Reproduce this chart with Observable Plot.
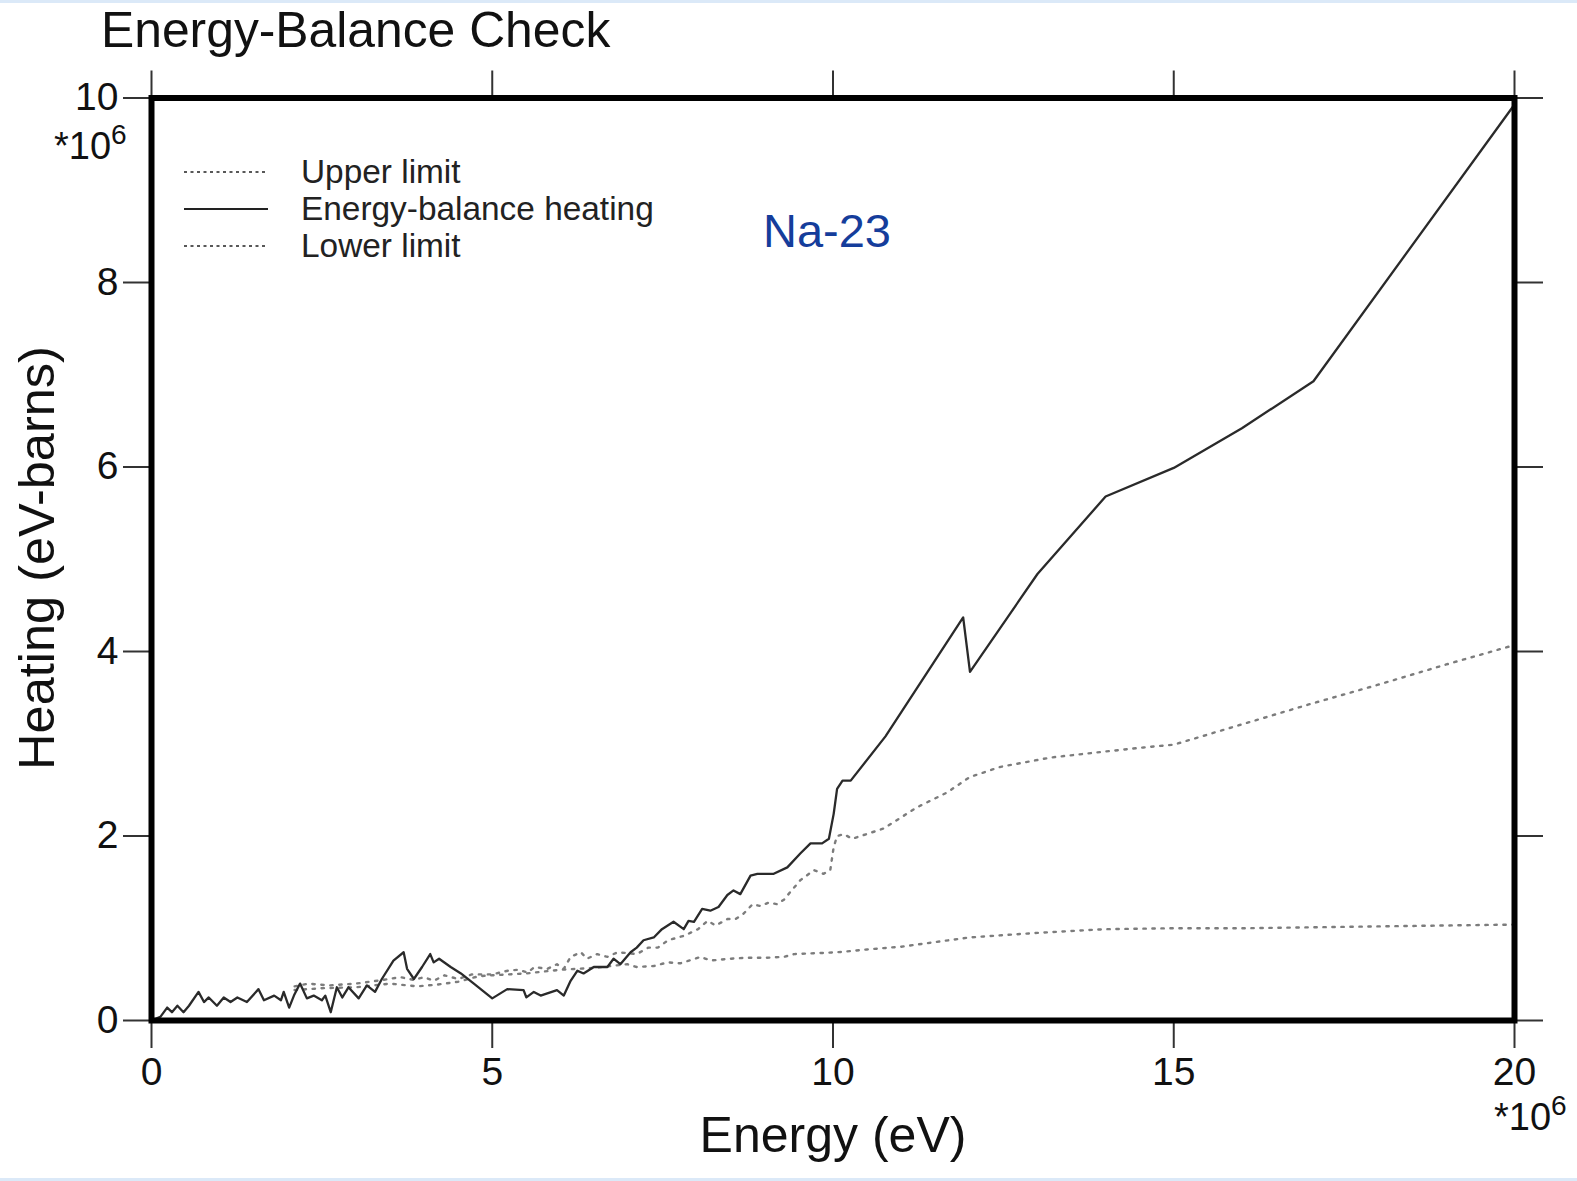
<!DOCTYPE html>
<html>
<head>
<meta charset="utf-8">
<script src="https://cdn.jsdelivr.net/npm/d3@7"></script>
<script src="https://cdn.jsdelivr.net/npm/@observablehq/plot@0.6"></script>
<style>
  html, body { margin: 0; padding: 0; background: #fff; }
  #wrap { position: relative; width: 1577px; height: 1181px; overflow: hidden;
          font-family: "Liberation Sans", Arial, sans-serif; color: #111; }
  #wrap svg { position: absolute; left: 0; top: 0; }
  .t { position: absolute; white-space: nowrap; line-height: 1; transform: translateY(-50%); }
  .edge { position: absolute; left: 0; width: 1577px; height: 3px; background: #dbe9f8; }
  sup { font-size: 0.74em; vertical-align: 0; position: relative; top: -0.55em; }
</style>
</head>
<body>
<div id="wrap"></div>
<script>
// Energy grid in units of 10^6 eV, heating in units of 10^6 eV-barns.
const heatingEnergy = [
  0, 0.13, 0.23, 0.3, 0.38, 0.47, 0.55, 0.69, 0.77, 0.84, 0.96, 1.06, 1.16, 1.26, 1.4,
  1.57, 1.65, 1.8, 1.9, 1.94, 2.02, 2.09, 2.18, 2.28, 2.38, 2.5, 2.55, 2.63, 2.72, 2.8,
  2.89, 3.04, 3.16, 3.28, 3.38, 3.55, 3.7, 3.75, 3.85, 3.97, 4.09, 4.14, 4.22, 4.39, 4.54,
  4.73, 5.0, 5.22, 5.46, 5.5, 5.61, 5.71, 5.95, 6.05, 6.15, 6.25, 6.34, 6.49, 6.69, 6.78,
  6.88, 7.03, 7.12, 7.22, 7.37, 7.49, 7.66, 7.81, 7.88, 7.96, 8.08, 8.2, 8.32, 8.45, 8.54,
  8.64, 8.79, 8.89, 9.13, 9.33, 9.52, 9.67, 9.84, 9.94, 10.01, 10.06, 10.14, 10.26, 10.77,
  11.91, 12.01, 13.0, 14.0, 15.0, 16.0, 17.05, 20.0
];
const heatingValue = [
  0, 0.04, 0.14, 0.09, 0.16, 0.09, 0.16, 0.31, 0.2, 0.25, 0.16, 0.25, 0.2, 0.25, 0.2,
  0.34, 0.22, 0.27, 0.22, 0.31, 0.14, 0.27, 0.4, 0.24, 0.27, 0.22, 0.27, 0.09, 0.36, 0.25,
  0.36, 0.24, 0.38, 0.31, 0.45, 0.65, 0.74, 0.56, 0.45, 0.58, 0.72, 0.63, 0.67, 0.58, 0.51,
  0.4, 0.24, 0.34, 0.33, 0.25, 0.31, 0.27, 0.33, 0.27, 0.43, 0.54, 0.51, 0.58, 0.58, 0.67,
  0.61, 0.74, 0.79, 0.87, 0.9, 0.99, 1.07, 0.99, 1.08, 1.07, 1.21, 1.19, 1.23, 1.36, 1.41,
  1.37, 1.57, 1.59, 1.59, 1.66, 1.81, 1.92, 1.92, 1.97, 2.24, 2.51, 2.6, 2.6, 3.08,
  4.37, 3.78, 4.84, 5.68, 5.99, 6.42, 6.93, 9.93
];

const upperEnergy = [
  2.1, 2.3, 2.6, 3.0, 3.4, 3.65, 3.85, 4.0, 4.14, 4.3, 4.5, 4.7, 5.0, 5.23, 5.38, 5.52,
  5.62, 5.81, 5.95, 6.05, 6.15, 6.3, 6.39, 6.54, 6.69, 6.84, 7.12, 7.29, 7.43, 7.58, 7.82,
  8.02, 8.16, 8.28, 8.45, 8.57, 8.69, 8.82, 8.94, 9.06, 9.18, 9.28, 9.37, 9.52, 9.72, 9.86,
  9.96, 10.01, 10.06, 10.16, 10.28, 10.74, 11.23, 11.67, 12.01, 12.46, 13.19, 13.92, 14.56,
  15.0, 16.0, 17.0, 18.0, 19.0, 20.0
];
const upperValue = [
  0.37, 0.4, 0.38, 0.4, 0.44, 0.47, 0.44, 0.47, 0.43, 0.49, 0.45, 0.5, 0.5, 0.54, 0.55, 0.52,
  0.58, 0.56, 0.61, 0.56, 0.69, 0.74, 0.67, 0.72, 0.69, 0.74, 0.72, 0.79, 0.79, 0.87, 0.92,
  0.99, 1.08, 1.03, 1.1, 1.1, 1.16, 1.26, 1.24, 1.28, 1.26, 1.31, 1.39, 1.52, 1.63, 1.59,
  1.63, 1.88, 2.0, 2.02, 1.97, 2.08, 2.31, 2.47, 2.64, 2.75, 2.85, 2.91, 2.96,
  2.99, 3.21, 3.43, 3.64, 3.86, 4.07
];

const lowerEnergy = [
  2.1, 2.5, 3.0, 3.5, 3.9, 4.2, 4.5, 4.8, 5.0, 5.5, 6.0, 6.5, 6.98, 7.12, 7.37, 7.57, 7.76,
  8.06, 8.2, 8.5, 8.74, 9.03, 9.28, 9.43, 9.78, 10.07, 10.5, 11.0, 11.5, 12.0, 13.0, 14.0,
  15.0, 16.0, 17.0, 18.0, 19.0, 20.0
];
const lowerValue = [
  0.33, 0.35, 0.36, 0.4, 0.37, 0.39, 0.42, 0.48, 0.49, 0.51, 0.55, 0.57, 0.61, 0.58, 0.59, 0.63, 0.62,
  0.69, 0.65, 0.67, 0.68, 0.68, 0.69, 0.72, 0.73, 0.74, 0.77, 0.8, 0.85, 0.9, 0.95, 0.99,
  1.0, 1.0, 1.01, 1.02, 1.03, 1.04
];

const xTicks = [0, 5, 10, 15, 20];
const yTicks = [0, 2, 4, 6, 8, 10];
const legendLabels = ["Upper limit", "Energy-balance heating", "Lower limit"];

const toRows = (xs, ys) => xs.map((x, i) => ({energy: x, heating: ys[i]}));
const heating = toRows(heatingEnergy, heatingValue);
const upper = toRows(upperEnergy, upperValue);
const lower = toRows(lowerEnergy, lowerValue);

const tickStyle = {tickSize: 28, stroke: "#333", strokeWidth: 2, fontSize: 39, color: "#111", label: null};

const chart = Plot.plot({
  width: 1577,
  height: 1181,
  marginLeft: 151,
  marginRight: 63,
  marginTop: 97.5,
  marginBottom: 161,
  style: {fontFamily: "Liberation Sans, Arial, sans-serif", background: "transparent", overflow: "visible"},
  x: {domain: [0, 20]},
  y: {domain: [0, 10]},
  marks: [
    Plot.line(upper, {x: "energy", y: "heating", stroke: "#7c7c7c", strokeWidth: 2.4, strokeDasharray: "2.4,6.6"}),
    Plot.line(lower, {x: "energy", y: "heating", stroke: "#7c7c7c", strokeWidth: 2.4, strokeDasharray: "2.4,6.6"}),
    Plot.line(heating, {x: "energy", y: "heating", stroke: "#2a2a2a", strokeWidth: 2.3, strokeLinejoin: "round"}),
    Plot.axisX({...tickStyle, anchor: "bottom", ticks: xTicks, tickPadding: 9}),
    Plot.axisX({...tickStyle, anchor: "top", ticks: xTicks, tickFormat: () => ""}),
    Plot.axisY({...tickStyle, anchor: "left", ticks: yTicks, tickPadding: 5}),
    Plot.axisY({...tickStyle, anchor: "right", ticks: yTicks, tickFormat: () => ""}),
    Plot.frame({stroke: "#000", strokeWidth: 6})
  ]
});

const wrap = document.getElementById("wrap");
wrap.appendChild(chart);

function addText(html, css) {
  const d = document.createElement("div");
  d.className = "t";
  d.innerHTML = html;
  Object.assign(d.style, css);
  wrap.appendChild(d);
  return d;
}

// thin tinted edges along the top and bottom of the page
const topEdge = document.createElement("div");
topEdge.className = "edge"; topEdge.style.top = "0px";
wrap.appendChild(topEdge);
const bottomEdge = document.createElement("div");
bottomEdge.className = "edge"; bottomEdge.style.top = "1178px";
wrap.appendChild(bottomEdge);

addText("Energy-Balance Check", {left: "101px", top: "31px", fontSize: "49.8px"});
addText("Energy (eV)", {left: "833px", top: "1135px", fontSize: "50px", transform: "translate(-50%,-50%)"});
addText("Heating (eV-barns)", {left: "37px", top: "558px", fontSize: "50.5px", transform: "translate(-50%,-50%) rotate(-90deg)"});
addText("*10<sup>6</sup>", {left: "54px", top: "146px", fontSize: "38px"});
addText("*10<sup>6</sup>", {left: "1494px", top: "1117px", fontSize: "38px"});
addText("Na-23", {left: "763px", top: "230px", fontSize: "47px", color: "#153d9b"});

// legend: line samples and labels
const legendRows = [
  {y: 172, dash: "3,3.5"},
  {y: 209, dash: null},
  {y: 246, dash: "3,3.5"}
];
const ns = "http://www.w3.org/2000/svg";
const lg = document.createElementNS(ns, "svg");
lg.setAttribute("width", 1577);
lg.setAttribute("height", 1181);
lg.style.position = "absolute"; lg.style.left = "0"; lg.style.top = "0";
legendRows.forEach((r, i) => {
  const ln = document.createElementNS(ns, "line");
  ln.setAttribute("x1", 184); ln.setAttribute("x2", 268);
  ln.setAttribute("y1", r.y); ln.setAttribute("y2", r.y);
  ln.setAttribute("stroke", "#222");
  ln.setAttribute("stroke-width", r.dash ? 1.6 : 2);
  if (r.dash) ln.setAttribute("stroke-dasharray", r.dash);
  lg.appendChild(ln);
  addText(legendLabels[i], {left: "301px", top: r.y + "px", fontSize: "33.4px", color: "#222"});
});
wrap.appendChild(lg);
</script>
</body>
</html>
